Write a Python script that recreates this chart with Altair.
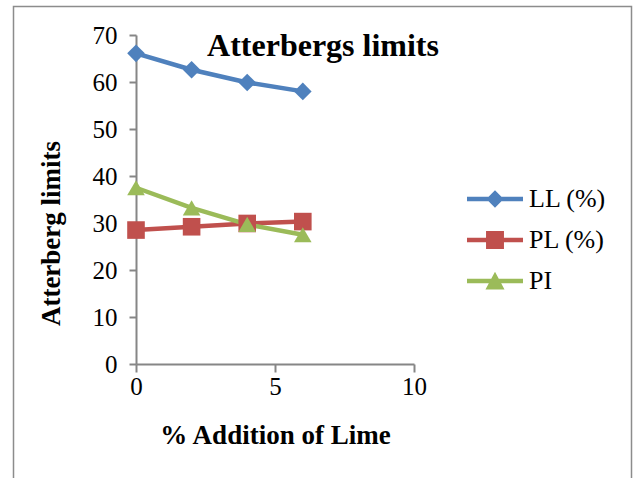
import altair as alt
import pandas as pd

# ---- data ----
lime = [0, 2, 4, 6]
series_names = ["LL (%)", "PL (%)", "PI"]
ll_values = [66.1, 62.6, 59.9, 58.0]
pl_values = [28.5, 29.2, 29.9, 30.3]
pi_values = [37.5, 33.2, 29.7, 27.5]
x_ticks = [0, 5, 10]
y_ticks = [0, 10, 20, 30, 40, 50, 60, 70]
chart_title = ["Atterbergs limits"]

colors = ["#4F81BD", "#C0504D", "#9BBB59"]
marker_shapes = ["diamond", "square", "triangle-up"]
legend_paths = [
    "M-1,-0.08L1,-0.08L1,0.08L-1,0.08Z M0,-0.31L0.31,0L0,0.31L-0.31,0Z",
    "M-1,-0.08L1,-0.08L1,0.08L-1,0.08Z M-0.32,-0.32L0.32,-0.32L0.32,0.32L-0.32,0.32Z",
    "M-1,-0.08L1,-0.08L1,0.08L-1,0.08Z M0,-0.33L0.34,0.3L-0.34,0.3Z",
]

rows = []
for name, vals in zip(series_names, [ll_values, pl_values, pi_values]):
    for x, v in zip(lime, vals):
        rows.append({"lime": x, "value": v, "series": name})
df = pd.DataFrame(rows)

FONT = "Liberation Serif"
W, H = 278, 329

x_enc = alt.X(
    "lime:Q",
    scale=alt.Scale(domain=[0, 10], nice=False),
    axis=alt.Axis(
        values=x_ticks, title="% Addition of Lime", tickSize=8, labelPadding=2,
        labelFlush=False,
        titleX=W / 2, titleY=79, titleBaseline="alphabetic", titleAlign="center",
    ),
)
y_enc = alt.Y(
    "value:Q",
    scale=alt.Scale(domain=[0, 70], nice=False),
    axis=alt.Axis(
        values=y_ticks, title="Atterberg limits", tickSize=7, labelPadding=12,
        labelFlush=False,
        titleX=-77, titleY=198, titleAngle=-90, titleBaseline="alphabetic",
        titleAlign="center",
    ),
)

line_layers = [
    alt.Chart(df)
    .transform_filter(alt.datum.series == name)
    .mark_line(color=c, strokeWidth=4.5, strokeCap="round", strokeJoin="round")
    .encode(x=x_enc, y=y_enc)
    for name, c in zip(series_names, colors)
]

point_layers = [
    alt.Chart(df)
    .transform_filter(alt.datum.series == name)
    .mark_point(shape=shp, color=c, filled=True, size=310, opacity=1)
    .encode(x=x_enc, y=y_enc)
    for name, c, shp in zip(series_names, colors, marker_shapes)
]

leg = alt.Legend(
    orient="none", legendX=331, legendY=136, title=None,
    labelFont=FONT, labelFontSize=26, labelColor="black", labelOffset=6,
    rowPadding=-10, symbolStrokeWidth=0, symbolSize=3136,
)
legend_layer = (
    alt.Chart(df)
    .mark_point(filled=True, size=3136, opacity=1)
    .encode(
        x=x_enc,
        y=alt.value(-3000),
        color=alt.Color("series:N", scale=alt.Scale(domain=series_names, range=colors), legend=leg),
        shape=alt.Shape("series:N", scale=alt.Scale(domain=series_names, range=legend_paths), legend=leg),
    )
)

title_layer = alt.Chart(pd.DataFrame({"t": chart_title})).mark_text(
    font=FONT, fontSize=32, fontWeight="bold", color="black",
    align="center", baseline="alphabetic",
).encode(text="t:N", x=alt.value(187), y=alt.value(21))

frame = alt.Chart(pd.DataFrame({"a": [0]})).mark_rect(
    fillOpacity=0, stroke="#8C8C8C", strokeWidth=1.5
).encode(
    x=alt.value(-122.5), x2=alt.value(495.5), y=alt.value(-28.5), y2=alt.value(470)
)

chart = (
    alt.layer(frame, *line_layers, *point_layers, legend_layer, title_layer)
    .properties(
        width=W, height=H,
        background="white",
        autosize=alt.AutoSizeParams(type="none"),
        padding={"left": 136, "top": 35, "right": 219, "bottom": 114},
    )
    .configure_view(stroke=None)
    .configure_axis(
        grid=False, domainColor="#868686", domainWidth=2, tickColor="#868686",
        tickWidth=2, labelFont=FONT, labelFontSize=25, labelColor="black",
        titleFont=FONT, titleFontSize=27, titleFontWeight="bold", titleColor="black",
    )
)

chart.save("out.html", embed_options={"renderer": "svg", "actions": False})
